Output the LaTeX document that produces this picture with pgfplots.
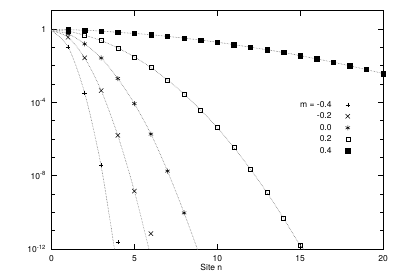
\documentclass[border=0pt]{standalone}
\usepackage{fontspec}
\setmainfont{TeX Gyre Heros}
\usepackage{pgfplots}
\pgfplotsset{compat=1.18}
\begin{document}
\begin{tikzpicture}
\useasboundingbox (0,0) rectangle (400bp,279bp);
\begin{axis}[
  at={(51.5bp,30bp)}, anchor=south west,
  scale only axis, width=331.5bp, height=238.3bp,
  ymode=log, xmin=0, xmax=20, ymin=1e-12, ymax=10,
  xtick={0,5,10,15,20}, xticklabels={0,5,10,15,20},
  ytick={1e-12,1e-8,1e-4,1},
  yticklabels={10\textsuperscript{-12},10\textsuperscript{-8},10\textsuperscript{-4},1},
  minor ytick={1e-11,1e-10,1e-9,1e-7,1e-6,1e-5,1e-3,1e-2,1e-1},
  minor xtick={},
  major tick length=5bp, minor tick length=3bp,
  tick align=inside,
  axis line style={line width=0.7bp},
  tick style={line width=0.6bp, black},
  every tick label/.append style={font=\fontsize{8.5bp}{10bp}\selectfont},
  xticklabel style={yshift=-3bp},
  yticklabel style={xshift=-2bp},
  xlabel={Site n},
  xlabel style={font=\fontsize{8.5bp}{10bp}\selectfont, at={(axis description cs:0.482,0)}, anchor=north, yshift=-12bp},
  legend plot pos=right,
  legend cell align=right,
  legend style={draw=none, fill=none, font=\fontsize{8.5bp}{10bp}\selectfont,
    at={(axis cs:18.2,2.0e-4)}, anchor=north east, row sep=0bp,
    /tikz/column sep=12bp},
  clip=true,
]
% fitted curves
\addplot[forget plot, densely dotted, black!60, line width=0.55bp, smooth] coordinates {
 (0,0.977) (1,0.933) (2,0.851) (3,0.776) (4,0.661) (5,0.575) (6,0.490) (7,0.398)
 (8,0.316) (9,0.251) (10,0.191) (11,0.141) (12,0.102) (13,0.0741) (14,0.0525)
 (15,0.0355) (16,0.0234) (17,0.0155) (18,0.00977) (19,0.00617) (20,0.00372)};
\addplot[forget plot, densely dotted, black!60, line width=0.55bp, smooth] coordinates {
 (0,0.85) (1,0.759) (2,0.457) (3,0.234) (4,0.0933) (5,0.0302) (6,7.94e-3) (7,1.66e-3)
 (8,2.88e-4) (9,3.80e-5) (10,4.27e-6) (11,3.47e-7) (12,2.29e-8) (13,1.20e-9)
 (14,4.79e-11) (15,1.62e-12) (15.5,6.31e-13)};
\addplot[forget plot, densely dotted, black!60, line width=0.55bp, smooth] coordinates {
 (0,0.8) (1,0.550) (2,0.155) (3,0.0263) (4,2.00e-3) (5,8.51e-5) (6,1.86e-6)
 (7,1.78e-8) (8,9.33e-11) (9,3.16e-13)};
\addplot[forget plot, densely dotted, black!60, line width=0.55bp, smooth] coordinates {
 (0,0.8) (1,0.355) (2,0.0269) (3,4.37e-4) (4,1.58e-6) (5,1.45e-9) (6,3.55e-13)};
\addplot[forget plot, densely dotted, black!60, line width=0.55bp, smooth] coordinates {
 (0,0.8) (1,0.107) (2,3.24e-4) (3,3.16e-8) (4,6.31e-14)};
% data points
\addplot[only marks, mark=+, mark size=2.2bp, black, line width=0.5bp] coordinates {
 (1,0.107) (2,3.24e-4) (3,3.80e-8) (4,2.34e-12)};
\addlegendentry{m = -0.4}
\addplot[only marks, mark=x, mark size=3.1bp, black, line width=0.5bp] coordinates {
 (1,0.355) (2,0.0269) (3,4.37e-4) (4,1.58e-6) (5,1.45e-9) (6,6.92e-12)};
\addlegendentry{-0.2}
\addplot[only marks, mark=asterisk, mark size=2.5bp, black, line width=0.5bp] coordinates {
 (1,0.550) (2,0.155) (3,0.0263) (4,2.00e-3) (5,8.51e-5) (6,1.86e-6) (7,1.78e-8) (8,9.33e-11)};
\addlegendentry{0.0}
\addplot[only marks, mark=square, mark size=2.0bp, black, line width=0.5bp] coordinates {
 (1,0.759) (2,0.457) (3,0.234) (4,0.0933) (5,0.0302) (6,7.94e-3) (7,1.66e-3)
 (8,2.88e-4) (9,3.80e-5) (10,4.27e-6) (11,3.47e-7) (12,2.29e-8) (13,1.20e-9)
 (14,4.79e-11) (15,1.62e-12)};
\addlegendentry{0.2}
\addplot[only marks, mark=square*, mark size=2.2bp, black, line width=0.5bp] coordinates {
 (1,0.933) (2,0.851) (3,0.776) (4,0.661) (5,0.575) (6,0.490) (7,0.398) (8,0.316)
 (9,0.251) (10,0.191) (11,0.141) (12,0.102) (13,0.0741) (14,0.0525) (15,0.0355)
 (16,0.0234) (17,0.0155) (18,0.00977) (19,0.00617) (20,0.00372)};
\addlegendentry{0.4}
\end{axis}
\end{tikzpicture}
\end{document}
